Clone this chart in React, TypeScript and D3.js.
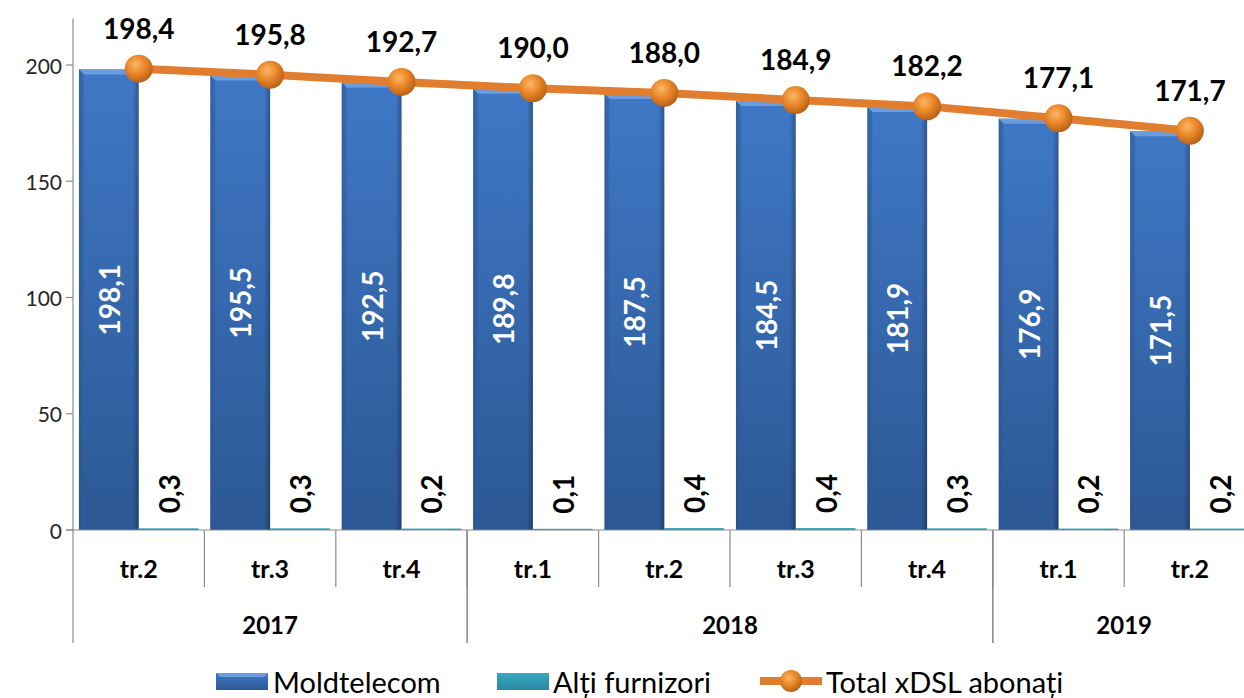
import React from "react";
import * as d3 from "d3";

const quarters = ["tr.2", "tr.3", "tr.4", "tr.1", "tr.2", "tr.3", "tr.4", "tr.1", "tr.2"];
const years = ["2017", "2017", "2017", "2018", "2018", "2018", "2018", "2019", "2019"];
const moldtelecom = [198.1, 195.5, 192.5, 189.8, 187.5, 184.5, 181.9, 176.9, 171.5];
const altiFurnizori = [0.3, 0.3, 0.2, 0.1, 0.4, 0.4, 0.3, 0.2, 0.2];
const totalXdsl = [198.4, 195.8, 192.7, 190.0, 188.0, 184.9, 182.2, 177.1, 171.7];
const yTicks = [0, 50, 100, 150, 200];
const seriesNames = ["Moldtelecom", "Alți furnizori", "Total xDSL abonați"];

const W = 1244;
const H = 698;
const FONT = "Lato, 'Open Sans', sans-serif";
const loc = d3.formatLocale({ decimal: ",", thousands: " ", grouping: [3], currency: ["", ""] });
const fmt = loc.format(".1f");

export default function App() {
  const left = 73;
  const groupW = 131.4;
  const idx = quarters.map((_, i) => String(i));
  const x = d3.scaleBand<string>().domain(idx).range([left, left + groupW * quarters.length]).padding(0);
  const sub = d3.scaleBand<string>().domain(["m", "a"]).range([0, x.bandwidth()]).paddingInner(0).paddingOuter(0.1);
  const y = d3.scaleLinear().domain([0, 220]).range([530, 18.5]);
  const y0 = y(0);
  const bw = sub.bandwidth();
  const cx = (i: number) => (x(String(i)) as number) + x.bandwidth() / 2;

  const line = d3
    .line<number>()
    .x((_, i) => cx(i))
    .y((d) => y(d));

  const yearGroups: { year: string; start: number; end: number }[] = [];
  years.forEach((yr, i) => {
    const last = yearGroups[yearGroups.length - 1];
    if (last && last.year === yr) last.end = i;
    else yearGroups.push({ year: yr, start: i, end: i });
  });

  const axisColor = "#8c8c8c";
  const bevel = 5;
  const legY = 681;

  return (
    <svg width={W} height={H} style={{ position: "absolute", left: 0, top: 0, background: "#fff" }} fontFamily={FONT}>
      <defs>
        <linearGradient id="gBlue" x1="0" y1="0" x2="0" y2="1">
          <stop offset="0" stopColor="#3f78c6" />
          <stop offset="1" stopColor="#2c5894" />
        </linearGradient>
        <linearGradient id="gEdge" x1="0" y1="0" x2="1" y2="0">
          <stop offset="0" stopColor="#000" stopOpacity="0.18" />
          <stop offset="0.08" stopColor="#000" stopOpacity="0" />
          <stop offset="0.9" stopColor="#000" stopOpacity="0" />
          <stop offset="1" stopColor="#000" stopOpacity="0.28" />
        </linearGradient>
        <linearGradient id="gTeal" x1="0" y1="0" x2="0" y2="1">
          <stop offset="0" stopColor="#3aa9c2" />
          <stop offset="1" stopColor="#24899f" />
        </linearGradient>
        <radialGradient id="gBall" cx="0.4" cy="0.35" r="0.7">
          <stop offset="0" stopColor="#fbb768" />
          <stop offset="0.45" stopColor="#ec8a2c" />
          <stop offset="1" stopColor="#b35b12" />
        </radialGradient>
      </defs>

      {/* Y axis */}
      <line x1={left} x2={left} y1={y(220)} y2={643} stroke={axisColor} strokeWidth={1.2} />
      {yTicks.map((t) => (
        <g key={t}>
          <line x1={left - 7} x2={left} y1={y(t)} y2={y(t)} stroke={axisColor} strokeWidth={1.2} />
          <text x={left - 11} y={y(t)} textAnchor="end" dominantBaseline="central" fontSize={21} fill="#262626">
            {t}
          </text>
        </g>
      ))}

      {/* Bars */}
      {moldtelecom.map((v, i) => {
        const bx = (x(String(i)) as number) + (sub("m") as number);
        const by = y(v);
        const bh = y0 - by;
        return (
          <g key={"m" + i}>
            <rect x={bx} y={by} width={bw} height={bh} fill="url(#gBlue)" />
            <rect x={bx} y={by} width={bw} height={bh} fill="url(#gEdge)" />
            <polygon
              points={`${bx},${by} ${bx + bw},${by} ${bx + bw - bevel},${by + bevel} ${bx + bevel},${by + bevel}`}
              fill="#6a9ddf"
            />
            <polygon points={`${bx},${by} ${bx + bevel},${by + bevel} ${bx + bevel},${y0} ${bx},${y0}`} fill="#2f5f9f" opacity={0.5} />
          </g>
        );
      })}
      {altiFurnizori.map((v, i) => {
        const bx = (x(String(i)) as number) + (sub("a") as number);
        const by = y(v);
        return <rect key={"a" + i} x={bx} y={by - 1} width={bw} height={y0 - by + 1} fill="url(#gTeal)" />;
      })}

      {/* X axis */}
      <line x1={left - 7} x2={W} y1={y0} y2={y0} stroke={axisColor} strokeWidth={1.2} />
      {quarters.map((q, i) => {
        const bx = x(String(i)) as number;
        return (
          <g key={"q" + i}>
            {i > 0 && <line x1={bx} x2={bx} y1={y0} y2={587} stroke={axisColor} strokeWidth={1.2} />}
            <text x={cx(i)} y={568} textAnchor="middle" dominantBaseline="central" fontSize={25} fontWeight="bold" fill="#000">
              {q}
            </text>
          </g>
        );
      })}
      {yearGroups.map((g, k) => {
        const s = x(String(g.start)) as number;
        const e = (x(String(g.end)) as number) + x.bandwidth();
        return (
          <g key={"y" + k}>
            {k > 0 && <line x1={s} x2={s} y1={y0} y2={643} stroke={axisColor} strokeWidth={1.2} />}
            <line x1={e} x2={e} y1={y0} y2={643} stroke={axisColor} strokeWidth={1.2} />
            <text x={(s + e) / 2} y={624} textAnchor="middle" dominantBaseline="central" fontSize={24} fontWeight="bold" fill="#000">
              {g.year}
            </text>
          </g>
        );
      })}

      {/* Total line */}
      <path d={line(totalXdsl) || ""} fill="none" stroke="#e07d2e" strokeWidth={8} strokeLinejoin="round" />
      {totalXdsl.map((v, i) => (
        <circle key={"c" + i} cx={cx(i)} cy={y(v)} r={14} fill="url(#gBall)" />
      ))}

      {/* Labels */}
      {totalXdsl.map((v, i) => (
        <text key={"tl" + i} x={cx(i)} y={y(v) - 41} textAnchor="middle" dominantBaseline="central" fontSize={28} fontWeight="bold" fill="#000">
          {fmt(v)}
        </text>
      ))}
      {moldtelecom.map((v, i) => {
        const lx = (x(String(i)) as number) + (sub("m") as number) + bw / 2;
        const ly = y(v / 2);
        return (
          <text
            key={"ml" + i}
            transform={`translate(${lx},${ly}) rotate(-90)`}
            textAnchor="middle"
            dominantBaseline="central"
            fontSize={28}
            fontWeight="bold"
            fill="#fff"
          >
            {fmt(v)}
          </text>
        );
      })}
      {altiFurnizori.map((v, i) => {
        const lx = (x(String(i)) as number) + (sub("a") as number) + bw / 2;
        const ly = y(v) - 16;
        return (
          <text
            key={"al" + i}
            transform={`translate(${lx},${ly}) rotate(-90)`}
            textAnchor="start"
            dominantBaseline="central"
            fontSize={28}
            fontWeight="bold"
            fill="#000"
          >
            {fmt(v)}
          </text>
        );
      })}

      {/* Legend */}
      <g>
        <rect x={216} y={legY - 8} width={52} height={17} fill="url(#gBlue)" />
        <polygon points={`216,${legY - 8} 268,${legY - 8} 264,${legY - 4} 220,${legY - 4}`} fill="#6a9ddf" />
        <text x={273} y={legY} dominantBaseline="central" fontSize={29} fill="#000">
          {seriesNames[0]}
        </text>
        <rect x={497} y={legY - 8} width={52} height={17} fill="url(#gTeal)" />
        <text x={553} y={legY} dominantBaseline="central" fontSize={29} fill="#000">
          {seriesNames[1]}
        </text>
        <line x1={760} x2={822} y1={legY} y2={legY} stroke="#e07d2e" strokeWidth={8} />
        <circle cx={791} cy={legY} r={11} fill="url(#gBall)" />
        <text x={826} y={legY} dominantBaseline="central" fontSize={29} fill="#000">
          {seriesNames[2]}
        </text>
      </g>
    </svg>
  );
}
